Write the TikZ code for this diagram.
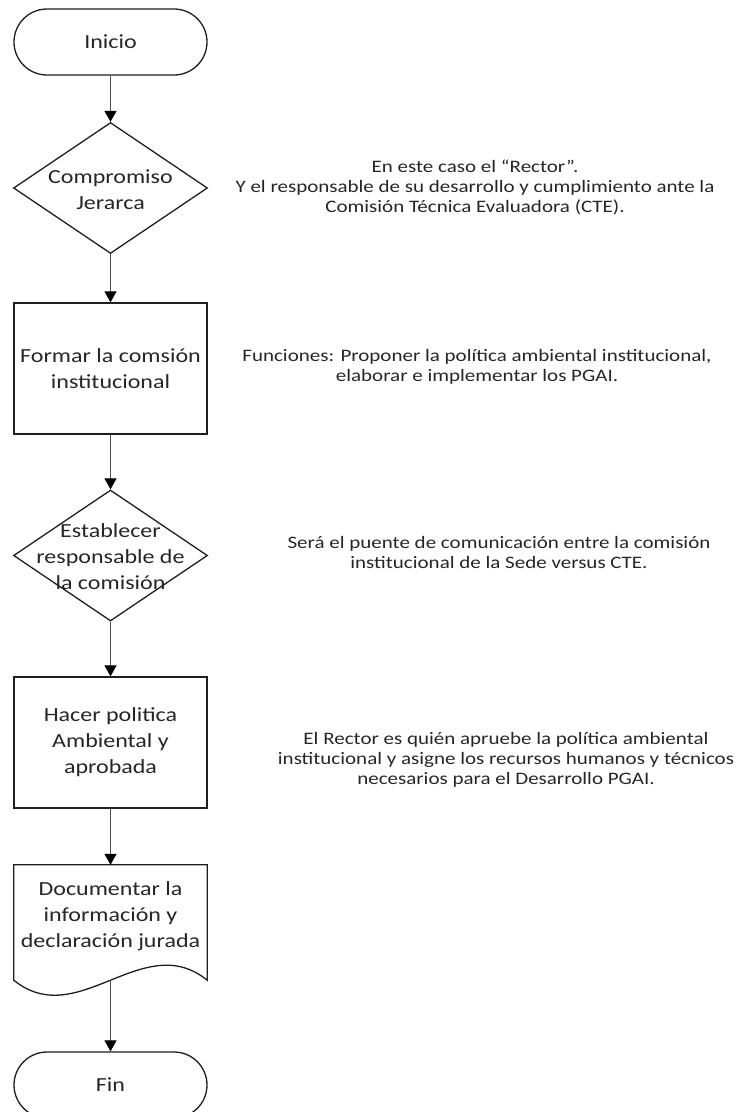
\documentclass[tikz,border=0pt]{standalone}
\usepackage{fontspec}
\setmainfont[FakeStretch=1.2]{Carlito}
\usetikzlibrary{shapes.geometric,arrows.meta}
\definecolor{ink}{HTML}{1E1E1E}
\definecolor{linegray}{HTML}{505050}
\definecolor{txtgray}{HTML}{262626}

\begin{document}
\begin{tikzpicture}[x=1pt,y=-1pt,
  shapebox/.style={draw=ink, line width=1.3pt, minimum width=193pt, inner sep=0pt,
    font=\fontsize{20}{26}\selectfont, text=txtgray, align=center},
  term/.style={shapebox, rounded corners=33pt, minimum height=66pt},
  proc/.style={shapebox, minimum height=131pt},
  dec/.style={draw=ink, line width=1.3pt, diamond, minimum width=194pt,
    minimum height=131pt, inner sep=0pt},
  label/.style={font=\fontsize{20}{26}\selectfont, text=txtgray, align=center, inner sep=0pt},
  note/.style={font=\fontsize{17.5}{20}\selectfont, text=txtgray, align=center},
  flow/.style={draw=linegray, line width=1.2pt,
    -{Triangle[length=11pt,width=12pt,color=black]}}
]
\useasboundingbox (0,0) rectangle (744,1112);

% flowchart column
\node[term] (start) at (110.5,42) {Inicio};
\node[dec] (d1) at (110.5,188) {};
\node[label] at (110.5,190) {Compromiso\\Jerarca};
\node[proc] (p1) at (110.5,368.5) {Formar la comsión\\institucional};
\node[dec] (d2) at (110.5,555.5) {};
\node[label] at (110.5,557) {Establecer\\responsable de\\la comisión};
\node[proc] (p2) at (110.5,742.5) {Hacer politica\\Ambiental y\\aprobada};

% document shape with wavy bottom
\node[minimum width=193pt, minimum height=115pt, inner sep=0pt] (doc) at (110.5,922.5) {};
\draw[draw=ink, line width=1.3pt]
  (doc.south west) -- (doc.north west) -- (doc.north east) -- (doc.south east)
  .. controls +(-64,-52) and +(64,52) .. (doc.south west) -- cycle;
\node[label] at (110.5,916) {Documentar la\\información y\\declaración jurada};

\node[term] (end) at (110.5,1085) {Fin};

% connectors
\draw[flow] (start.south) -- (d1.north);
\draw[flow] (d1.south) -- (p1.north);
\draw[flow] (p1.south) -- (d2.north);
\draw[flow] (d2.south) -- (p2.north);
\draw[flow] (p2.south) -- (doc.north);
\draw[flow] (doc.south) -- (end.north);

% side notes
\node[note] (n1) at (475,187) {En este caso el “Rector”.\\Y el responsable de su desarrollo y cumplimiento ante la\\Comisión Técnica Evaluadora (CTE).};
\node[note] (n2) at (477,367) {Funciones: Proponer la política ambiental institucional,\\elaborar e implementar los PGAI.};
\node[note] (n3) at (499,552) {Será el puente de comunicación entre la comisión\\institucional de la Sede versus CTE.};
\node[note] (n4) at (506,760) {El Rector es quién apruebe la política ambiental\\institucional y asigne los recursos humanos y técnicos\\necesarios para el Desarrollo PGAI.};
\end{tikzpicture}
\end{document}
